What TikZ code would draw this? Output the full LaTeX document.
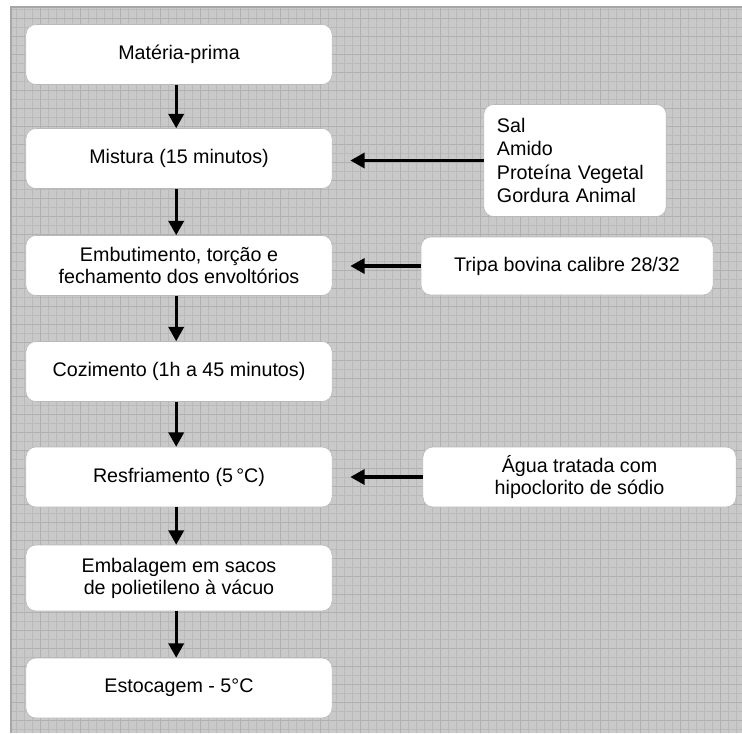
\documentclass[tikz,border=0pt]{standalone}
\usepackage{fontspec}
\setmainfont{Liberation Sans}
\usetikzlibrary{arrows.meta,positioning}

\begin{document}
\begin{tikzpicture}[
    x=0.025cm, y=-0.025cm,
    font=\fontsize{14}{15.5}\selectfont,
    pn/.style  = { draw=gray!55, fill=white, rounded corners=0.25cm,
                   line width=0.4pt, minimum width=7.65cm,
                   minimum height=1.5cm, align=center, inner sep=2pt },
    ipn/.style = { pn, minimum width=#1 }, ipn/.default = 7.3cm,
    connect line/.style = { line width=2.2pt,
                   -{Triangle[length=0.36cm,width=0.38cm]} }
]
\useasboundingbox (0,0) rectangle (742,733);

% patterned background
\fill[gray!42] (11,7) rectangle (742,733);
\begin{scope}
  \clip (11,7) rectangle (742,733);
  \draw[gray!54, line width=0.4pt, xstep=0.2cm, ystep=0.225cm]
    (0,0) grid (742,733);
  \draw[gray!62, line width=0.7pt, xstep=1cm, ystep=0.45cm]
    (0,0) grid (742,733);
\end{scope}
\draw[gray!70, line width=1pt] (11,733) -- (11,7) -- (742,7);

% process column
\node[pn] (materia) at (179,54.5)  {Matéria-prima};
\node[pn] (mistura) at (179,158.5) {Mistura (15 minutos)};
\node[pn] (embut)   at (179,265.5) {Embutimento, torção e\\fechamento dos envoltórios};
\node[pn] (cozim)   at (179,371.5) {Cozimento (1h a 45 minutos)};
\node[pn] (resfr)   at (179,477)   {Resfriamento (5\,°C)};
\node[pn, minimum height=1.65cm] (embal) at (179,578)
      {Embalagem em sacos\\de polietileno à vácuo};
\node[pn] (estoc)   at (179,688)   {Estocagem - 5°C};

% inputs
\node[pn, minimum width=4.55cm, minimum height=2.8cm, text width=3.9cm,
      align=left, inner xsep=0.33cm, font=\fontsize{14}{16.5}\selectfont]
      (sal) at (575,160.5) {Sal\\Amido\\Proteína Vegetal\\Gordura Animal};
\node[ipn, minimum height=1.45cm] (tripa) at (567,266) {Tripa bovina calibre 28/32};
\node[ipn=7.825cm] (agua) at (579.5,477) {Água tratada com\\hipoclorito de sódio};

\foreach \a/\b in {materia/mistura, mistura/embut, embut/cozim,
                   cozim/resfr, resfr/embal, embal/estoc}
  \draw[connect line] ([xshift=-0.07cm]\a.south) -- ([xshift=-0.07cm]\b.north);

\foreach \a/\b in {sal/mistura, tripa/embut, agua/resfr}
  \draw[connect line, shorten >=0.45cm] (\a.west) -- (\a.west -| \b.east);

\end{tikzpicture}
\end{document}
